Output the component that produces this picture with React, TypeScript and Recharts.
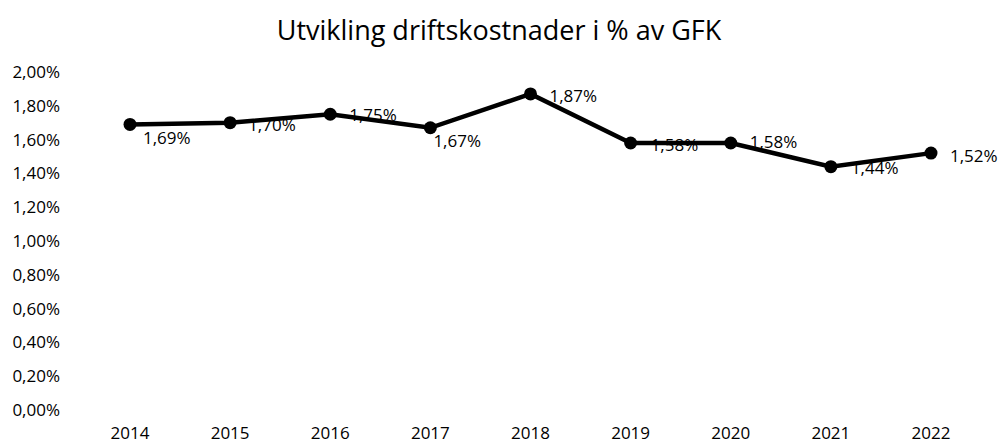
import React from 'react';
import { LineChart, Line, XAxis, YAxis, LabelList } from 'recharts';

const years = ['2014', '2015', '2016', '2017', '2018', '2019', '2020', '2021', '2022'];
const costPct = [1.69, 1.7, 1.75, 1.67, 1.87, 1.58, 1.58, 1.44, 1.52];
const yTicks = [0, 0.2, 0.4, 0.6, 0.8, 1.0, 1.2, 1.4, 1.6, 1.8, 2.0];

// label nudges (dx, dy) from each point, Excel had them moved by hand
const labelNudge: [number, number][] = [
  [13, 13], [18, 2], [19, 0], [3, 13], [19, 2], [20, 2], [19, -1], [20, 1], [19, 2],
];

const data = years.map((year, i) => ({ year, value: costPct[i] }));

const FONT = '"Open Sans", sans-serif';
const fmt = (v: number) => v.toFixed(2).replace('.', ',') + '%';

function PointLabel(props: any) {
  const { x, y, value, index } = props;
  const [dx, dy] = labelNudge[index] || [19, 2];
  return (
    <text x={x + dx} y={y + dy} dominantBaseline="central" fontSize={17} fontFamily={FONT} fill="#000">
      {fmt(value)}
    </text>
  );
}

export default function App() {
  return (
    <div style={{ position: 'fixed', top: 0, left: 0, width: 998, height: 445, background: '#fff' }}>
      <div
        style={{
          position: 'absolute', top: 12, left: 0, width: 998, textAlign: 'center',
          fontFamily: FONT, fontSize: 27, color: '#000', lineHeight: '36px',
        }}
      >
        Utvikling driftskostnader i % av GFK
      </div>
      <LineChart width={998} height={445} data={data} margin={{ top: 72, right: 17, bottom: 0, left: 0 }}>
        <XAxis
          dataKey="year"
          axisLine={false}
          tickLine={false}
          tickSize={0}
          tickMargin={17}
          height={35}
          interval={0}
          padding={{ left: 50, right: 50 }}
          tick={{ fontSize: 17, fontFamily: FONT, fill: '#000' }}
        />
        <YAxis
          domain={[0, 2]}
          ticks={yTicks}
          axisLine={false}
          tickLine={false}
          tickSize={0}
          tickMargin={20}
          width={80}
          interval={0}
          tickFormatter={fmt}
          tick={{ fontSize: 17, fontFamily: FONT, fill: '#000' }}
        />
        <Line
          type="linear"
          dataKey="value"
          stroke="#000"
          strokeWidth={4.5}
          dot={{ r: 6.5, fill: '#000', stroke: '#000', strokeWidth: 0 }}
          isAnimationActive={false}
        >
          <LabelList dataKey="value" content={<PointLabel />} />
        </Line>
      </LineChart>
    </div>
  );
}
